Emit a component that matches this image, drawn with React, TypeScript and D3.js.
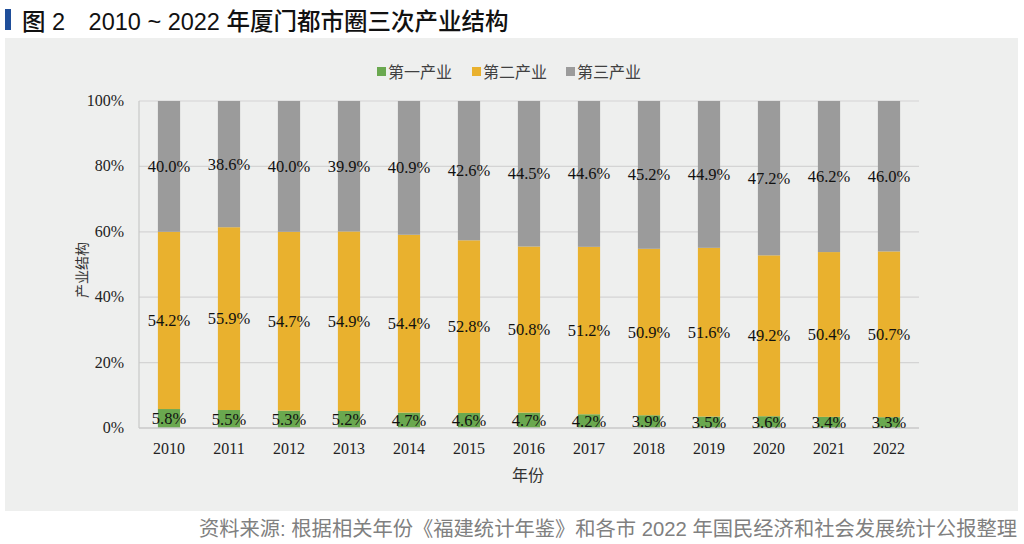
import React from "react";
import * as d3 from "d3";

const years = ["2010","2011","2012","2013","2014","2015","2016","2017","2018","2019","2020","2021","2022"];
const primary = [5.8,5.5,5.3,5.2,4.7,4.6,4.7,4.2,3.9,3.5,3.6,3.4,3.3];
const secondary = [54.2,55.9,54.7,54.9,54.4,52.8,50.8,51.2,50.9,51.6,49.2,50.4,50.7];
const tertiary = [40.0,38.6,40.0,39.9,40.9,42.6,44.5,44.6,45.2,44.9,47.2,46.2,46.0];
const seriesNames = ["第一产业","第二产业","第三产业"];
const colors = ["#6aa84f","#e9b12e","#9b9b9b"];
const yTicks = [0,20,40,60,80,100];

const W = 1024, H = 544;
const plotL = 139, plotR = 919, plotT = 101, plotB = 428;

export default function App() {
  const x = d3.scaleBand<string>().domain(years).range([plotL, plotR]).paddingInner(0.63).paddingOuter(0.315);
  const y = d3.scaleLinear().domain([0, 100]).range([plotB, plotT]);
  const rows = years.map((yr, i) => ({ year: yr, s0: primary[i], s1: secondary[i], s2: tertiary[i] }));
  const stack = d3.stack<any>().keys(["s0","s1","s2"]);
  const layers = stack(rows);
  const serif = "'Liberation Serif', 'DejaVu Serif', serif";
  const cjk = "'Noto Sans CJK SC', 'Noto Sans', sans-serif";
  const mixed = "'Liberation Sans', 'Noto Sans CJK SC', sans-serif";
  const legendX = [377, 472, 566];

  return (
    <svg width={W} height={H} style={{ position: "absolute", left: 0, top: 0, background: "#fff" }}>
      <rect x={5} y={9} width={6} height={21} fill="#1f4e9a" />
      <text x={22} y={30} fontFamily={mixed} fontSize={23.5} fontWeight={500} fill="#111">图 2　2010 ~ 2022 年厦门都市圈三次产业结构</text>
      <rect x={5} y={38} width={1013} height={473} fill="#eeefee" />
      {seriesNames.map((n, i) => (
        <g key={n}>
          <rect x={legendX[i]} y={67} width={9} height={9} fill={colors[i]} />
          <text x={legendX[i] + 11} y={78} fontFamily={cjk} fontSize={16} fill="#404040">{n}</text>
        </g>
      ))}
      {yTicks.map(t => (
        <g key={t}>
          {t > 0 && <line x1={plotL} x2={plotR} y1={y(t)} y2={y(t)} stroke="#d4d4d4" strokeWidth={1.2} />}
          <text x={124} y={y(t) + 5} textAnchor="end" fontFamily={serif} fontSize={16} fill="#222">{t}%</text>
        </g>
      ))}
      <line x1={plotL} x2={plotL} y1={plotT} y2={plotB} stroke="#c8c8c8" strokeWidth={1.2} />
      {layers.map((layer, li) => (
        <g key={li}>
          {layer.map((d: any, i: number) => (
            <rect key={i} x={x(years[i])} width={x.bandwidth()} y={y(d[1])} height={y(d[0]) - y(d[1])} fill={colors[li]} />
          ))}
        </g>
      ))}
      <line x1={plotL} x2={plotR} y1={plotB} y2={plotB} stroke="#c8c8c8" strokeWidth={1.5} />
      {layers.map((layer, li) => (
        <g key={"l" + li}>
          {layer.map((d: any, i: number) => (
            <text key={i} x={(x(years[i]) as number) + x.bandwidth() / 2} y={(y(d[0]) + y(d[1])) / 2 + 5.5}
              textAnchor="middle" fontFamily={serif} fontSize={16.5} fill="#111">{(d[1] - d[0]).toFixed(1)}%</text>
          ))}
        </g>
      ))}
      {years.map(yr => (
        <text key={yr} x={(x(yr) as number) + x.bandwidth() / 2} y={454} textAnchor="middle" fontFamily={serif} fontSize={16} fill="#222">{yr}</text>
      ))}
      <text x={528} y={481} textAnchor="middle" fontFamily={cjk} fontSize={16} fill="#333">年份</text>
      <text transform="translate(87,270) rotate(-90)" textAnchor="middle" fontFamily={cjk} fontSize={14} fill="#333">产业结构</text>
      <text x={1017} y={536} textAnchor="end" fontFamily={mixed} fontSize={20.3} fill="#808080">资料来源: 根据相关年份《福建统计年鉴》和各市 2022 年国民经济和社会发展统计公报整理</text>
    </svg>
  );
}
